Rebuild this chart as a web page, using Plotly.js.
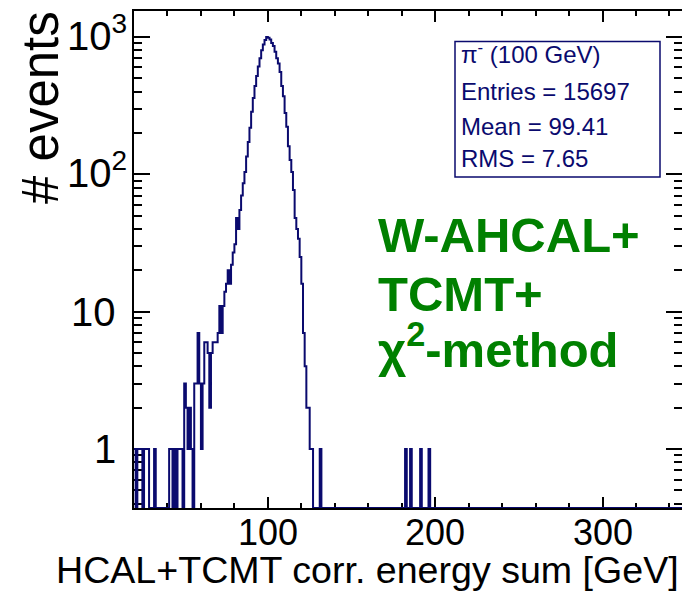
<!DOCTYPE html>
<html><head><meta charset="utf-8">
<script src="https://cdn.plot.ly/plotly-3.0.1.min.js"></script>
<style>html,body{margin:0;padding:0;background:#fff;} #chart{width:682px;height:591px;}</style>
</head><body><div id="chart"></div>
<script>
// ---- data ----
const binEnergy = [20,22,23,24,26,27,28,32,
  41,42,44,46,47,48,
  50,51,52,53,54,
  56,57,58,59,60,61,62,63,64,65,66,67,68,69,70,71,72,73,74,75,76,77,78,79,80,
  81,82,83,84,85,86,87,88,89,90,91,92,93,94,95,96,97,98,99,100,
  101,102,103,104,105,106,107,108,109,110,111,112,113,114,115,116,117,118,119,120,
  121,122,123,124,125,126,131,182,185,191,196];
const binCount = [1,1,1,1,1,1,1,1,
  1,1,1,1,1,1,
  3,2,1,2,1,
  3,3,7,3,1,3,6,6,5,2,5,6,6,6,7,11,7,11,14,16,20,16,22,27,31,
  48,40,55,70,86,104,135,172,218,285,360,440,520,610,700,800,880,950,1000,985,
  960,905,860,780,700,640,555,440,370,280,222,160,127,104,77,48,40,34,25,16,
  7,4,2,2,1,1,1,1,1,1,1];
const histLow = 20, histHigh = 350, binWidth = 1;

const xTickVals = [100, 200, 300];
const xTickText = ['100', '200', '300'];
const yTickVals = [1, 10, 100, 1000];
const yTickText = ['1', '10', '10<sup>2</sup>', '10<sup>3</sup>'];
const yMinorVals = [0.4,0.5,0.6,0.7,0.8,0.9,2,3,4,5,6,7,8,9,20,30,40,50,60,70,80,90,200,300,400,500,600,700,800,900];

const statsLines = ['π<sup>-</sup> (100 GeV)', 'Entries = 15697', 'Mean = 99.41', 'RMS = 7.65'];
const labelLines = ['W-AHCAL+', 'TCMT+', 'χ<sup>2</sup>-method'];
const xTitle = 'HCAL+TCMT corr. energy sum [GeV]';
const yTitle = '# events';

// ---- build histogram step outline ----
const yRange = [-0.429, 3.189];
const floorVal = Math.pow(10, yRange[0]);
const countMap = new Map();
binEnergy.forEach((e, i) => countMap.set(e, binCount[i]));
const xs = [], ys = [];
for (let e = histLow; e < histHigh; e += binWidth) {
  const c = countMap.get(e) || 0;
  xs.push(e); ys.push(c > 0 ? c : floorVal);
}
xs.push(histHigh); ys.push(ys[ys.length - 1]);

const navy = '#0a0a6e';
const FONT = 'Liberation Sans, Arial, sans-serif';

const trace = {
  type: 'scatter', mode: 'lines', x: xs, y: ys,
  line: {shape: 'hv', color: navy, width: 2},
  hoverinfo: 'skip'
};

// ---- layout helpers (pixel -> paper) ----
const L = 134, R = 682, T = 11, B = 508;
const px = p => (p - L) / (R - L);
const py = p => (B - p) / (B - T);

const annotations = [];
// tick labels
xTickVals.forEach((v, i) => annotations.push({
  text: xTickText[i], xref: 'x', yref: 'paper', x: v, y: py(532),
  xanchor: 'center', yanchor: 'middle', showarrow: false,
  font: {family: FONT, size: 36, color: 'black'}
}));
yTickVals.forEach((v, i) => {
  const hasSup = yTickText[i].indexOf('<sup>') >= 0;
  annotations.push({
    text: yTickText[i], xref: 'paper', yref: 'y', x: hasSup ? px(65) : px(118), y: Math.log10(v),
    xanchor: hasSup ? 'left' : 'right', yanchor: 'middle', showarrow: false,
    yshift: hasSup ? 4 : 0,
    font: {family: FONT, size: 40, color: 'black'}
  });
});
const statY = [53.5, 91.7, 126.7, 159];
statsLines.forEach((t, i) => annotations.push({
  text: t, xref: 'paper', yref: 'paper', x: px(459), y: py(statY[i]),
  xanchor: 'left', yanchor: 'middle', showarrow: false,
  font: {family: FONT, size: 24, color: navy}
}));
const labY = [235, 294, 346];
labelLines.forEach((t, i) => annotations.push({
  text: t, xref: 'paper', yref: 'paper', x: px(376), y: py(labY[i]),
  xanchor: 'left', yanchor: 'middle', showarrow: false,
  font: {family: FONT, size: 49, color: '#008000', weight: 'bold'}
}));
annotations.push({
  text: xTitle, xref: 'paper', yref: 'paper', x: px(681), y: py(570),
  xanchor: 'right', yanchor: 'middle', showarrow: false,
  font: {family: FONT, size: 37.6, color: 'black'}
});
annotations.push({
  text: yTitle, xref: 'paper', yref: 'paper', x: px(41), y: py(108),
  xanchor: 'center', yanchor: 'middle', showarrow: false, textangle: -90,
  font: {family: FONT, size: 51, color: 'black'}
});

const layout = {
  width: 682, height: 591,
  margin: {l: L, r: 682 - R, t: T, b: 591 - B, pad: 0},
  paper_bgcolor: 'white', plot_bgcolor: 'white',
  showlegend: false,
  font: {family: FONT, color: 'black'},
  xaxis: {
    range: [20, 347.5], showgrid: false, zeroline: false,
    showline: true, linecolor: 'black', linewidth: 2, mirror: 'ticks',
    ticks: 'inside', ticklen: 11, tickwidth: 2, tickcolor: 'black',
    tickmode: 'array', tickvals: xTickVals, ticktext: xTickText, showticklabels: false,
    minor: {tickmode: 'linear', tick0: 0, dtick: 20, ticks: 'inside', ticklen: 5, tickwidth: 2, tickcolor: 'black', showgrid: false},
    layer: 'below traces'
  },
  yaxis: {
    type: 'log', range: yRange, showgrid: false, zeroline: false,
    showline: true, linecolor: 'black', linewidth: 2, mirror: 'ticks',
    ticks: 'inside', ticklen: 16, tickwidth: 2, tickcolor: 'black',
    tickmode: 'array', tickvals: yTickVals, ticktext: yTickText, showticklabels: false,
    minor: {tickmode: 'array', tickvals: yMinorVals, ticks: 'inside', ticklen: 8, tickwidth: 2, tickcolor: 'black', showgrid: false},
    layer: 'below traces'
  },
  shapes: [{
    type: 'rect', xref: 'paper', yref: 'paper',
    x0: px(455), x1: px(660), y0: py(177), y1: py(41.5),
    line: {color: navy, width: 1.5}, fillcolor: 'white', layer: 'above'
  }],
  annotations: annotations
};

Plotly.newPlot('chart', [trace], layout, {staticPlot: true, displayModeBar: false});
</script>
</body></html>
